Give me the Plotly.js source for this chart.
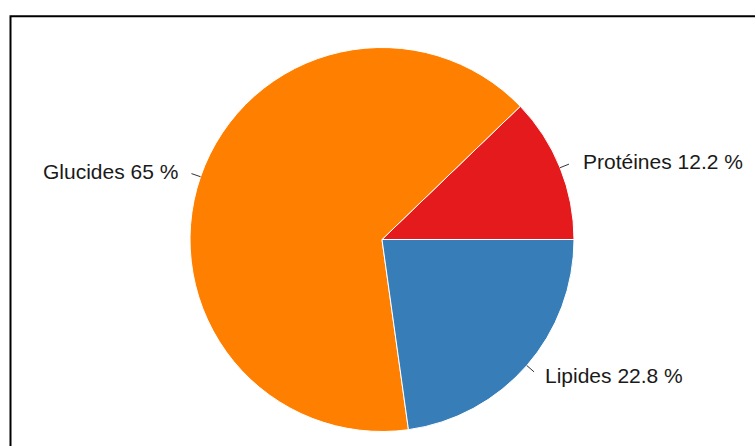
<!DOCTYPE html>
<html>
<head>
<meta charset="utf-8">
<script src="https://cdn.plot.ly/plotly-3.0.1.min.js"></script>
<style>html,body{margin:0;padding:0;background:#fff;}#chart{width:755px;height:446px;}</style>
</head>
<body>
<div id="chart"></div>
<script>
const categories = ["Protéines", "Glucides", "Lipides"];
const values = [12.2, 65, 22.8];
const colors = ["#e41a1c", "#ff7f00", "#377eb8"];

const W = 755, H = 446;
const cx = 382, cy = 239.5, R = 192;
const dom = {
  x: [(cx - R) / W, (cx + R) / W],
  y: [(H - cy - R) / H, (H - cy + R) / H]
};

// label geometry (R base pie style: tick from r to 1.05r, label beyond)
const total = values.reduce((a, b) => a + b, 0);
const annotations = [];
const shapes = [{
  type: "rect", xref: "paper", yref: "paper",
  x0: 10.5 / W, x1: 1.05, y0: -0.05, y1: 1 - 16.3 / H,
  line: {color: "#000", width: 2}, fillcolor: "rgba(0,0,0,0)", layer: "above"
}];
let cum = 0;
values.forEach((v, i) => {
  const mid = (cum + v / 2) / total * 2 * Math.PI;
  cum += v;
  const c = Math.cos(mid), s = Math.sin(mid);
  const px = (r) => (cx + r * c) / W;
  const py = (r) => (H - cy + r * s) / H;
  shapes.push({
    type: "line", xref: "paper", yref: "paper",
    x0: px(R), y0: py(R), x1: px(1.05 * R), y1: py(1.05 * R),
    line: {color: "#333", width: 1}
  });
  annotations.push({
    xref: "paper", yref: "paper",
    x: (cx + 1.115 * R * c) / W, y: (H - cy + 1.08 * R * s) / H,
    xanchor: c < 0 ? "right" : "left", yanchor: "middle",
    text: categories[i] + " " + values[i] + " %",
    showarrow: false,
    font: {family: "Liberation Sans, Arial, sans-serif", size: 21, color: "#1a1a1a"}
  });
});

const data = [{
  type: "pie",
  labels: categories,
  values: values,
  sort: false,
  direction: "counterclockwise",
  rotation: 90 - 360 * values[0] / total,
  textinfo: "none",
  hoverinfo: "skip",
  marker: {colors: colors, line: {color: "#ffffff", width: 1}},
  domain: dom,
  showlegend: false
}];

const layout = {
  width: W, height: H,
  margin: {l: 0, r: 0, t: 0, b: 0},
  paper_bgcolor: "#ffffff",
  showlegend: false,
  shapes: shapes,
  annotations: annotations
};

Plotly.newPlot("chart", data, layout, {displayModeBar: false, staticPlot: true});
</script>
</body>
</html>
